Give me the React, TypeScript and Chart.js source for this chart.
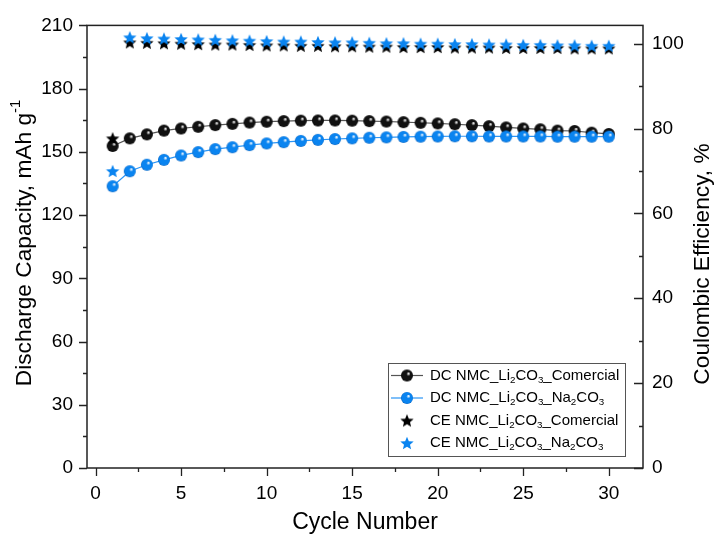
import React, { useEffect, useRef } from "react";
import { Chart, registerables } from "chart.js";

Chart.register(...registerables);

// ---------- data ----------
const cycles = [1, 2, 3, 4, 5, 6, 7, 8, 9, 10, 11, 12, 13, 14, 15, 16, 17, 18, 19, 20, 21, 22, 23, 24, 25, 26, 27, 28, 29, 30];
const dcComercial = [152.8, 156.4, 158.3, 160.1, 161.1, 161.9, 162.7, 163.3, 163.9, 164.3, 164.6, 164.8, 164.9, 164.9, 164.8, 164.6, 164.4, 164.1, 163.8, 163.5, 163.1, 162.7, 162.2, 161.6, 161.1, 160.7, 160.1, 159.9, 159.1, 158.5];
const dcNa2CO3 = [133.7, 140.8, 143.9, 146.2, 148.3, 149.9, 151.3, 152.2, 153.2, 154.0, 154.6, 155.2, 155.7, 156.1, 156.4, 156.7, 156.9, 157.1, 157.2, 157.3, 157.4, 157.4, 157.3, 157.3, 157.3, 157.3, 157.2, 157.2, 157.2, 157.2];
const ceComercial = [77.7, 100.3, 100.2, 100.1, 100.0, 99.9, 99.8, 99.8, 99.7, 99.6, 99.6, 99.5, 99.5, 99.4, 99.4, 99.3, 99.3, 99.2, 99.2, 99.2, 99.1, 99.1, 99.1, 99.0, 99.0, 99.0, 99.0, 98.9, 98.9, 98.9];
const ceNa2CO3 = [70.0, 101.5, 101.3, 101.2, 101.1, 101.0, 100.9, 100.8, 100.7, 100.6, 100.5, 100.5, 100.4, 100.3, 100.3, 100.2, 100.1, 100.1, 100.0, 100.0, 99.9, 99.9, 99.8, 99.8, 99.7, 99.7, 99.6, 99.6, 99.5, 99.5];

const xTicks = [0, 5, 10, 15, 20, 25, 30];
const yTicks = [0, 30, 60, 90, 120, 150, 180, 210];
const y1Ticks = [0, 20, 40, 60, 80, 100];

const FONT = "'Liberation Sans', Arial, sans-serif";
const BLUE = "#0a84f0";
const BLUE_LINE = "#2b95f5";
const BLACK_LINE = "#555555";

type Seg = { t: string; sub?: boolean; sup?: boolean };

const legendItems: { label: Seg[]; kind: "sphere" | "star"; color: "black" | "blue" }[] = [
  { label: [{ t: "DC NMC_Li" }, { t: "2", sub: true }, { t: "CO" }, { t: "3", sub: true }, { t: "_Comercial" }], kind: "sphere", color: "black" },
  { label: [{ t: "DC NMC_Li" }, { t: "2", sub: true }, { t: "CO" }, { t: "3", sub: true }, { t: "_Na" }, { t: "2", sub: true }, { t: "CO" }, { t: "3", sub: true }], kind: "sphere", color: "blue" },
  { label: [{ t: "CE NMC_Li" }, { t: "2", sub: true }, { t: "CO" }, { t: "3", sub: true }, { t: "_Comercial" }], kind: "star", color: "black" },
  { label: [{ t: "CE NMC_Li" }, { t: "2", sub: true }, { t: "CO" }, { t: "3", sub: true }, { t: "_Na" }, { t: "2", sub: true }, { t: "CO" }, { t: "3", sub: true }], kind: "star", color: "blue" },
];

function makeSphere(base: string, dark: string, r: number): HTMLCanvasElement {
  const s = Math.ceil(r * 2 + 2);
  const c = document.createElement("canvas");
  c.width = s;
  c.height = s;
  const g = c.getContext("2d")!;
  const cx = s / 2;
  const cy = s / 2;
  const grad = g.createRadialGradient(cx + r * 0.3, cy - r * 0.35, r * 0.05, cx, cy, r);
  grad.addColorStop(0, "#ffffff");
  grad.addColorStop(0.3, base);
  grad.addColorStop(0.85, base);
  grad.addColorStop(1, dark);
  g.fillStyle = grad;
  g.beginPath();
  g.arc(cx, cy, r, 0, Math.PI * 2);
  g.fill();
  return c;
}

function makeStar(color: string, R: number): HTMLCanvasElement {
  const s = Math.ceil(R * 2 + 2);
  const c = document.createElement("canvas");
  c.width = s;
  c.height = s;
  const g = c.getContext("2d")!;
  const cx = s / 2;
  const cy = s / 2 + R * 0.1;
  const r = R * 0.45;
  g.beginPath();
  for (let i = 0; i < 10; i++) {
    const a = -Math.PI / 2 + (i * Math.PI) / 5;
    const rr = i % 2 === 0 ? R : r;
    const px = cx + rr * Math.cos(a);
    const py = cy + rr * Math.sin(a);
    if (i === 0) g.moveTo(px, py);
    else g.lineTo(px, py);
  }
  g.closePath();
  g.fillStyle = color;
  g.fill();
  return c;
}

function richWidth(ctx: CanvasRenderingContext2D, segs: Seg[], size: number) {
  let w = 0;
  for (const s of segs) {
    ctx.font = `${s.sub || s.sup ? size * 0.65 : size}px ${FONT}`;
    w += ctx.measureText(s.t).width;
  }
  return w;
}

function drawRich(ctx: CanvasRenderingContext2D, segs: Seg[], x: number, y: number, size: number) {
  let cx = x;
  ctx.textBaseline = "middle";
  ctx.textAlign = "left";
  for (const s of segs) {
    const fs = s.sub || s.sup ? size * 0.65 : size;
    ctx.font = `${fs}px ${FONT}`;
    const dy = s.sub ? size * 0.3 : s.sup ? -size * 0.38 : 0;
    ctx.fillText(s.t, cx, y + dy);
    cx += ctx.measureText(s.t).width;
  }
}

export default function App() {
  const ref = useRef<HTMLCanvasElement>(null);

  useEffect(() => {
    if (!ref.current) return;
    const sphereBlack = makeSphere("#111111", "#000000", 6);
    const sphereBlue = makeSphere(BLUE, "#0060c0", 6);
    const starBlack = makeStar("#000000", 7);
    const starBlue = makeStar(BLUE, 7);

    const axesPlugin = {
      id: "customAxes",
      afterDraw(chart: any) {
        const ctx: CanvasRenderingContext2D = chart.ctx;
        const { left, right, top, bottom } = chart.chartArea;
        const xs = chart.scales.x;
        const ys = chart.scales.y;
        const y1 = chart.scales.y1;
        ctx.save();
        ctx.strokeStyle = "#222";
        ctx.lineWidth = 1.5;
        // frame
        ctx.strokeRect(left, top, right - left, bottom - top);
        ctx.lineWidth = 1.3;
        ctx.beginPath();
        // left axis ticks (outward)
        for (let v = 0; v <= 210; v += 15) {
          const p = Math.round(ys.getPixelForValue(v)) + 0.5;
          const len = v % 30 === 0 ? 8 : 4;
          ctx.moveTo(left - len, p);
          ctx.lineTo(left, p);
        }
        // right axis ticks (inward)
        for (let v = 0; v <= 100; v += 10) {
          const p = Math.round(y1.getPixelForValue(v)) + 0.5;
          const len = v % 20 === 0 ? 9 : 4;
          ctx.moveTo(right - len, p);
          ctx.lineTo(right, p);
        }
        // bottom ticks (outward)
        for (let v = 0; v <= 30; v += 2.5) {
          const p = Math.round(xs.getPixelForValue(v)) + 0.5;
          const len = v % 5 === 0 ? 8 : 4;
          ctx.moveTo(p, bottom);
          ctx.lineTo(p, bottom + len);
        }
        ctx.stroke();

        // axis titles
        ctx.fillStyle = "#000";
        const tSize = 22.7;
        const leftTitle: Seg[] = [{ t: "Discharge Capacity, mAh g" }, { t: "-1", sup: true }];
        const lw = richWidth(ctx, leftTitle, tSize);
        ctx.save();
        ctx.translate(25, 243);
        ctx.rotate(-Math.PI / 2);
        drawRich(ctx, leftTitle, -lw / 2, 0, tSize);
        ctx.restore();

        const rightTitle: Seg[] = [{ t: "Coulombic Efficiency, %" }];
        const rw = richWidth(ctx, rightTitle, tSize);
        ctx.save();
        ctx.translate(703, 264);
        ctx.rotate(-Math.PI / 2);
        drawRich(ctx, rightTitle, -rw / 2, 0, tSize);
        ctx.restore();

        const bottomTitle: Seg[] = [{ t: "Cycle Number" }];
        const bw = richWidth(ctx, bottomTitle, 23);
        drawRich(ctx, bottomTitle, (left + right) / 2 - bw / 2, 523, 23);

        // legend
        const bx = 388, by = 363, bwid = 237, bh = 93;
        ctx.lineWidth = 1;
        ctx.strokeStyle = "#555";
        ctx.strokeRect(bx + 0.5, by + 0.5, bwid, bh);
        const rowH = 22.5;
        legendItems.forEach((it, i) => {
          const cy = by + 12.5 + i * rowH;
          const mx = bx + 19;
          if (it.kind === "sphere") {
            ctx.strokeStyle = it.color === "black" ? BLACK_LINE : BLUE_LINE;
            ctx.lineWidth = 1.2;
            ctx.beginPath();
            ctx.moveTo(bx + 3, cy);
            ctx.lineTo(bx + 35, cy);
            ctx.stroke();
            const img = it.color === "black" ? sphereBlack : sphereBlue;
            ctx.drawImage(img, mx - img.width / 2, cy - img.height / 2);
          } else {
            const img = it.color === "black" ? starBlack : starBlue;
            ctx.drawImage(img, mx - img.width / 2, cy - img.height / 2);
          }
          ctx.fillStyle = "#000";
          drawRich(ctx, it.label, bx + 42, cy, 15);
        });
        ctx.restore();
      },
    };

    const pts = (arr: number[]) => cycles.map((c, i) => ({ x: c, y: arr[i] }));

    const chart = new Chart(ref.current, {
      type: "line",
      data: {
        datasets: [
          {
            label: "CE NMC_Li2CO3_Na2CO3",
            data: pts(ceNa2CO3),
            yAxisID: "y1",
            showLine: false,
            pointStyle: starBlue as any,
            pointRadius: 7,
            order: 0,
          },
          {
            label: "CE NMC_Li2CO3_Comercial",
            data: pts(ceComercial),
            yAxisID: "y1",
            showLine: false,
            pointStyle: starBlack as any,
            pointRadius: 7,
            order: 1,
          },
          {
            label: "DC NMC_Li2CO3_Na2CO3",
            data: pts(dcNa2CO3),
            yAxisID: "y",
            borderColor: BLUE_LINE,
            borderWidth: 1.2,
            pointStyle: sphereBlue as any,
            pointRadius: 6,
            order: 2,
          },
          {
            label: "DC NMC_Li2CO3_Comercial",
            data: pts(dcComercial),
            yAxisID: "y",
            borderColor: BLACK_LINE,
            borderWidth: 1.2,
            pointStyle: sphereBlack as any,
            pointRadius: 6,
            order: 3,
          },
        ],
      },
      options: {
        responsive: false,
        animation: false,
        devicePixelRatio: 1,
        layout: { padding: { top: 21, left: 0, right: 0, bottom: 0 } },
        plugins: { legend: { display: false }, tooltip: { enabled: false } },
        scales: {
          x: {
            type: "linear",
            min: -0.5,
            max: 32,
            grid: { display: true, drawOnChartArea: false, drawTicks: false },
            border: { display: false },
            afterBuildTicks: (s: any) => {
              s.ticks = xTicks.map((v) => ({ value: v }));
            },
            afterFit: (s: any) => {
              s.height = 539 - 468;
            },
            ticks: { padding: 14, color: "#000", font: { family: FONT, size: 19 } },
          },
          y: {
            type: "linear",
            position: "left",
            min: 0,
            max: 210,
            grid: { display: true, drawOnChartArea: false, drawTicks: false },
            border: { display: false },
            afterBuildTicks: (s: any) => {
              s.ticks = yTicks.map((v) => ({ value: v }));
            },
            afterFit: (s: any) => {
              s.width = 87;
            },
            ticks: { padding: 14, color: "#000", font: { family: FONT, size: 19 } },
          },
          y1: {
            type: "linear",
            position: "right",
            min: 0,
            max: 104.3,
            grid: { display: true, drawOnChartArea: false, drawTicks: false },
            border: { display: false },
            afterBuildTicks: (s: any) => {
              s.ticks = y1Ticks.map((v) => ({ value: v }));
            },
            afterFit: (s: any) => {
              s.width = 717 - 643;
            },
            ticks: { padding: 9, color: "#000", font: { family: FONT, size: 19 } },
          },
        },
      },
      plugins: [axesPlugin],
    });
    return () => chart.destroy();
  }, []);

  return (
    <div style={{ position: "absolute", left: 0, top: 0, width: 717, height: 539, background: "#fff" }}>
      <canvas ref={ref} width={717} height={539} />
    </div>
  );
}
